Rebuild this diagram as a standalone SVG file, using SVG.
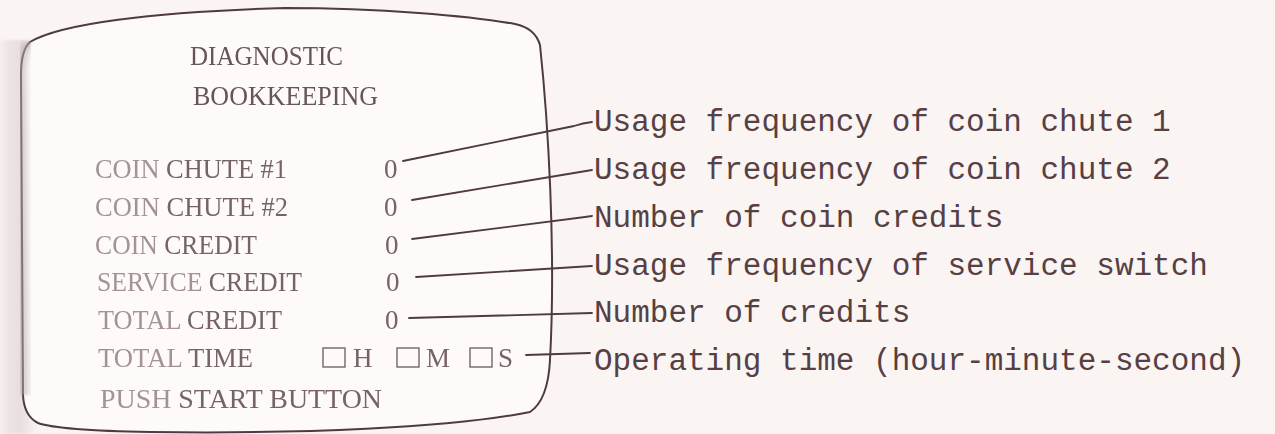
<svg xmlns="http://www.w3.org/2000/svg" width="1275" height="434" viewBox="0 0 1275 434">
  <defs>
    <style>
      .scr { font-family: "Liberation Serif", "Times New Roman", serif; font-size: 27px; fill: #76646a; }
      .title { fill: #66545a; }
      .dim { fill: #a39399; }
      .val { font-family: "Liberation Serif", "Times New Roman", serif; font-size: 27px; fill: #76646a; }
      .ann { font-family: "Liberation Mono", "Courier New", monospace; font-size: 31px; fill: #564044; }
      .lead { fill: none; stroke: #4e3a3f; stroke-width: 1.8; stroke-linecap: round; stroke-linejoin: round; }
      .frame { fill: #fdfaf8; stroke: #4e3a44; stroke-width: 2; }
      .box { fill: none; stroke: #76646a; stroke-width: 1.4; }
    </style>
    <filter id="soft" x="-5%" y="-20%" width="110%" height="140%">
      <feGaussianBlur stdDeviation="0.7"/>
    </filter>
    <filter id="smear" x="-10%" y="-10%" width="120%" height="120%">
      <feGaussianBlur stdDeviation="4 1"/>
    </filter>
    <linearGradient id="edge" x1="0" y1="0" x2="1" y2="0">
      <stop offset="0" stop-color="#f3ecea"/>
      <stop offset="0.6" stop-color="#e6dcdc"/>
      <stop offset="1" stop-color="#f6f0ee"/>
    </linearGradient>
  </defs>

  <rect width="1275" height="434" fill="#faf5f3"/>
  <rect x="0" y="40" width="34" height="394" fill="url(#edge)" filter="url(#smear)"/>

  <g id="screen">
    <path class="frame" d="M30,42 C60,24 150,12 285,8 C380,8 470,16 515,24 Q535,28 540,45 C548,120 556,250 550,360 Q548,400 530,412 C450,428 300,434 150,432 C90,431 52,428 38,423 Q24,416 23,395 L21,75 Q21,50 30,42 Z"/>
    <path d="M23,395 L21,75 Q21,50 30,42" fill="none" stroke="#b6a8ae" stroke-width="6" filter="url(#smear)"/>
  </g>

  <g id="labels" filter="url(#soft)">
    <text class="scr title" x="190" y="65" textLength="153" lengthAdjust="spacingAndGlyphs">DIAGNOSTIC</text>
    <text class="scr title" x="193" y="105" textLength="185" lengthAdjust="spacingAndGlyphs">BOOKKEEPING</text>
    <text id="coin-chute-1" class="scr" x="95" y="178" textLength="192" lengthAdjust="spacingAndGlyphs"><tspan class="dim">COIN</tspan> CHUTE #1</text>
    <text id="coin-chute-2" class="scr" x="95" y="216" textLength="193" lengthAdjust="spacingAndGlyphs"><tspan class="dim">COIN</tspan> CHUTE #2</text>
    <text id="coin-credit" class="scr" x="95" y="254" textLength="162" lengthAdjust="spacingAndGlyphs"><tspan class="dim">COIN</tspan> CREDIT</text>
    <text id="service-credit" class="scr" x="97" y="291" textLength="205" lengthAdjust="spacingAndGlyphs"><tspan class="dim">SERVICE</tspan> CREDIT</text>
    <text id="total-credit" class="scr" x="98" y="329" textLength="184" lengthAdjust="spacingAndGlyphs"><tspan class="dim">TOTAL</tspan> CREDIT</text>
    <text id="total-time" class="scr" x="98" y="367" textLength="155" lengthAdjust="spacingAndGlyphs"><tspan class="dim">TOTAL</tspan> TIME</text>
    <text id="push-start" class="scr" x="100" y="408" textLength="282" lengthAdjust="spacingAndGlyphs"><tspan class="dim">PUSH</tspan> START BUTTON</text>
  </g>

  <g id="values" filter="url(#soft)">
    <text class="val" x="384" y="178">0</text>
    <text class="val" x="384" y="216">0</text>
    <text class="val" x="385" y="254">0</text>
    <text class="val" x="386" y="291">0</text>
    <text class="val" x="385" y="329">0</text>
    <g id="time-fields">
      <rect class="box" x="323" y="348" width="22" height="19"/>
      <text class="val" x="353" y="367">H</text>
      <rect class="box" x="397" y="348" width="22" height="19"/>
      <text class="val" x="426" y="367">M</text>
      <rect class="box" x="470" y="348" width="22" height="19"/>
      <text class="val" x="498" y="367">S</text>
    </g>
  </g>

  <g id="connectors">
    <path class="lead" d="M403,161 L574,126 Q583,123 592,122"/>
    <path class="lead" d="M412,200 L580,172 L592,170"/>
    <path class="lead" d="M412,239 L585,217 L592,216"/>
    <path class="lead" d="M416,277 L592,266"/>
    <path class="lead" d="M409,318 L592,313"/>
    <path class="lead" d="M526,355 L590,353"/>
  </g>

  <g id="annotations">
    <text id="ann-1" class="ann" x="594" y="131">Usage frequency of coin chute 1</text>
    <text id="ann-2" class="ann" x="594" y="179">Usage frequency of coin chute 2</text>
    <text id="ann-3" class="ann" x="594" y="227">Number of coin credits</text>
    <text id="ann-4" class="ann" x="594" y="275">Usage frequency of service switch</text>
    <text id="ann-5" class="ann" x="594" y="322">Number of credits</text>
    <text id="ann-6" class="ann" x="594" y="370">Operating time (hour-minute-second)</text>
  </g>
</svg>
